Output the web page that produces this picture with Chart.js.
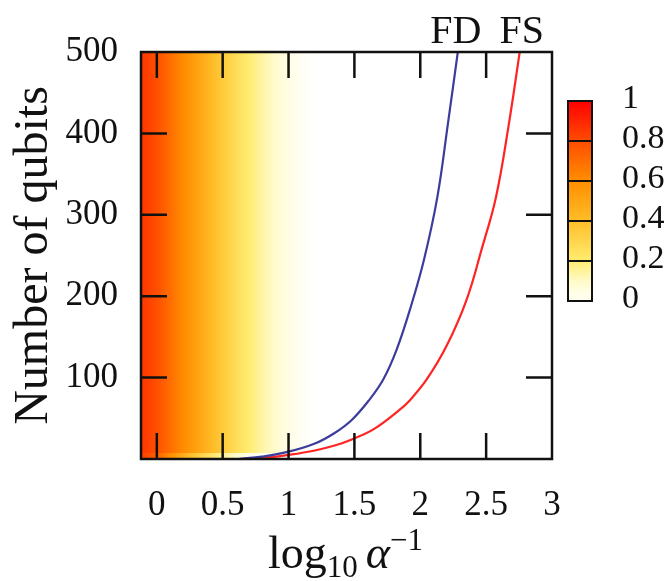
<!DOCTYPE html>
<html>
<head>
<meta charset="utf-8">
<script src="https://cdn.jsdelivr.net/npm/chart.js@4.4.0/dist/chart.umd.min.js"></script>
<style>
  html, body { margin: 0; padding: 0; background: #fff; }
  #wrap { width: 671px; height: 581px; }
</style>
</head>
<body>
<div id="wrap"><canvas id="qubitChart"></canvas></div>
<script>
// tick labels
const xTickValues = [0, 0.5, 1, 1.5, 2, 2.5, 3];
const yTickValues = [100, 200, 300, 400, 500];
const cbTickValues = [0, 0.2, 0.4, 0.6, 0.8, 1];

// FD curve (blue)
const fdX = [0.62, 0.8, 1.0, 1.2, 1.35, 1.48, 1.61, 1.72, 1.82, 1.93, 2.03, 2.13, 2.21, 2.285];
const fdY = [0, 3, 9, 19, 32, 48, 72, 98, 134, 188, 246, 322, 412, 500];

// FS curve (red)
const fsX = [0.67, 0.85, 1.0, 1.2, 1.35, 1.48, 1.65, 1.84, 1.92, 2.05, 2.2, 2.35, 2.47, 2.575, 2.67, 2.755];
const fsY = [0, 2, 5, 10.5, 16.5, 24, 37, 60, 72, 98, 139, 195, 260, 322, 409, 500];

// background map: value along log10 alpha^-1, two bands in number of qubits
const heatX = [-0.12, 0, 0.1, 0.2, 0.3, 0.4, 0.5, 0.6, 0.7, 0.8, 0.9, 1.0, 1.1, 1.2, 3];
const heatRowEdges = [0, 8, 500];
const heatRows = [
    [0.84, 0.74, 0.6, 0.47, 0.35, 0.25, 0.16, 0.09, 0.04, 0.02, 0.01, 0, 0, 0, 0],
    [0.86, 0.79, 0.7, 0.61, 0.52, 0.43, 0.35, 0.27, 0.2, 0.14, 0.09, 0.05, 0.02, 0, 0]
];

// colour map white -> yellow -> orange -> red
const cmap = [
    [0, [255, 255, 255]],
    [0.1, [255, 250, 200]],
    [0.2, [255, 236, 112]],
    [0.4, [255, 190, 40]],
    [0.6, [255, 142, 0]],
    [0.8, [255, 76, 0]],
    [1, [255, 0, 0]]
];

function colourFor(v) {
    for (let i = 1; i < cmap.length; i++) {
        if (v <= cmap[i][0]) {
            const a = cmap[i - 1], b = cmap[i];
            const t = (v - a[0]) / (b[0] - a[0]);
            const c = a[1].map((k, j) => Math.round(k + (b[1][j] - k) * t));
            return 'rgb(' + c.join(',') + ')';
        }
    }
    return 'rgb(255,0,0)';
}

function toPoints(xs, ys) {
    return xs.map((x, i) => ({ x: x, y: ys[i] }));
}

const serif = '"Liberation Serif", "DejaVu Serif", serif';

const framePlugin = {
    id: 'frame',
    beforeDatasetsDraw(chart) {
        const ctx = chart.ctx;
        const area = chart.chartArea;
        const xs = chart.scales.x, ys = chart.scales.y;
        const x0 = xs.getPixelForValue(heatX[0]);
        const x1 = xs.getPixelForValue(heatX[heatX.length - 1]);
        ctx.save();
        ctx.beginPath();
        ctx.rect(area.left, area.top, area.right - area.left, area.bottom - area.top);
        ctx.clip();
        heatRows.forEach((row, r) => {
            const g = ctx.createLinearGradient(x0, 0, x1, 0);
            heatX.forEach((hx, i) => {
                g.addColorStop((xs.getPixelForValue(hx) - x0) / (x1 - x0), colourFor(row[i]));
            });
            const yb = ys.getPixelForValue(heatRowEdges[r]);
            const yt = ys.getPixelForValue(heatRowEdges[r + 1]);
            ctx.fillStyle = g;
            ctx.fillRect(x0, yt, x1 - x0, yb - yt + 0.5);
        });
        ctx.restore();
    },
    afterDatasetsDraw(chart) {
        const ctx = chart.ctx;
        const area = chart.chartArea;
        const xs = chart.scales.x, ys = chart.scales.y;
        const tick = 26;
        ctx.save();
        ctx.strokeStyle = '#111';
        ctx.lineWidth = 2.5;
        // inner ticks on all four sides
        ctx.beginPath();
        xTickValues.forEach(v => {
            const px = xs.getPixelForValue(v);
            if (px > area.right - 2) return;
            ctx.moveTo(px, area.bottom); ctx.lineTo(px, area.bottom - tick);
            ctx.moveTo(px, area.top); ctx.lineTo(px, area.top + tick);
        });
        yTickValues.forEach(v => {
            const py = ys.getPixelForValue(v);
            if (py < area.top + 2) return;
            ctx.moveTo(area.left, py); ctx.lineTo(area.left + tick, py);
            ctx.moveTo(area.right, py); ctx.lineTo(area.right - tick, py);
        });
        ctx.stroke();
        ctx.strokeRect(area.left, area.top, area.right - area.left, area.bottom - area.top);

        // curve names above the top ends
        ctx.fillStyle = '#111';
        ctx.font = '40px ' + serif;
        ctx.textAlign = 'center';
        ctx.textBaseline = 'alphabetic';
        ctx.fillText('FD', xs.getPixelForValue(fdX[fdX.length - 1]) - 2, 43);
        ctx.fillText('FS', xs.getPixelForValue(fsX[fsX.length - 1]) + 2, 43);

        // x axis title: log10 alpha^-1
        const parts = [
            { t: 'log', f: '46px ' + serif, dy: 0 },
            { t: '10', f: '31px ' + serif, dy: 9, gap: 8 },
            { t: 'α', f: 'italic 46px ' + serif, dy: 0 },
            { t: '−1', f: '31px ' + serif, dy: -18, gap: 2 }
        ];
        let total = 0;
        parts.forEach(p => { ctx.font = p.f; p.w = ctx.measureText(p.t).width; total += p.w + (p.gap || 0); });
        let cx = (area.left + area.right) / 2 - total / 2;
        ctx.textAlign = 'left';
        parts.forEach(p => {
            ctx.font = p.f;
            ctx.fillText(p.t, cx, 568 + p.dy);
            cx += p.w + (p.gap || 0);
        });

        // colour bar
        const cbL = area.right + 16, cbW = 24, cbT = 101, cbB = 301;
        const cg = ctx.createLinearGradient(0, cbB, 0, cbT);
        for (let i = 0; i <= 20; i++) cg.addColorStop(i / 20, colourFor(Math.max(i / 20, 0.03)));
        ctx.fillStyle = cg;
        ctx.fillRect(cbL, cbT, cbW, cbB - cbT);
        ctx.lineWidth = 2;
        ctx.beginPath();
        cbTickValues.forEach(v => {
            const py = cbB - (cbB - cbT) * v;
            ctx.moveTo(cbL, py); ctx.lineTo(cbL + cbW, py);
        });
        ctx.stroke();
        ctx.strokeRect(cbL, cbT, cbW, cbB - cbT);
        ctx.fillStyle = '#111';
        ctx.font = '34px ' + serif;
        ctx.textBaseline = 'middle';
        cbTickValues.forEach(v => {
            ctx.fillText(String(v), cbL + 54, cbB - (cbB - cbT) * v - 2);
        });
        ctx.restore();
    }
};

Chart.defaults.font.family = serif;

const ctx = document.getElementById('qubitChart').getContext('2d');
new Chart(ctx, {
    type: 'scatter',
    data: {
        datasets: [
            {
                label: 'FD',
                data: toPoints(fdX, fdY),
                showLine: true,
                borderColor: '#3c3c9c',
                borderWidth: 2.2,
                pointRadius: 0,
                tension: 0.4
            },
            {
                label: 'FS',
                data: toPoints(fsX, fsY),
                showLine: true,
                borderColor: '#ff2424',
                borderWidth: 2.2,
                pointRadius: 0,
                tension: 0.4
            }
        ]
    },
    options: {
        responsive: true,
        maintainAspectRatio: false,
        animation: false,
        layout: { padding: { top: 52, right: 119, left: 0, bottom: 0 } },
        plugins: {
            legend: { display: false },
            tooltip: { enabled: false }
        },
        scales: {
            x: {
                type: 'linear',
                min: -0.12,
                max: 3,
                grid: { display: false, drawTicks: false },
                border: { display: false },
                afterBuildTicks: s => { s.ticks = xTickValues.map(v => ({ value: v })); },
                afterFit: s => { s.height = 122; },
                ticks: {
                    padding: 26,
                    color: '#111',
                    maxRotation: 0,
                    autoSkip: false,
                    font: { family: serif, size: 35 },
                    callback: v => String(v)
                }
            },
            y: {
                type: 'linear',
                min: 0,
                max: 500,
                grid: { display: false, drawTicks: false },
                border: { display: false },
                afterBuildTicks: s => { s.ticks = yTickValues.map(v => ({ value: v })); },
                afterFit: s => { s.width = 141; },
                ticks: {
                    padding: 23,
                    color: '#111',
                    autoSkip: false,
                    font: { family: serif, size: 35 },
                    callback: v => String(v)
                },
                title: {
                    display: true,
                    text: 'Number of qubits',
                    color: '#111',
                    font: { family: serif, size: 48 },
                    padding: { top: 6, bottom: 0 }
                }
            }
        }
    },
    plugins: [framePlugin]
});
</script>
</body>
</html>
